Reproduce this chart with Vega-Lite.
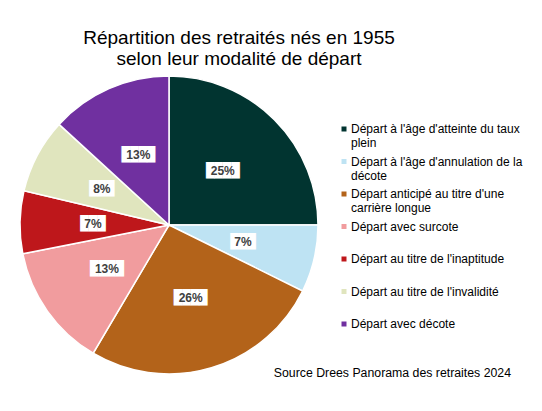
{
  "$schema": "https://vega.github.io/schema/vega-lite/v6.json",
  "background": "white",
  "padding": {"left": 0, "top": 29, "right": 0, "bottom": 0},
  "title": {
    "text": ["Répartition des retraités nés en 1955", "selon leur modalité de départ"],
    "font": "Liberation Sans",
    "fontSize": 19,
    "fontWeight": "normal",
    "color": "#000000",
    "anchor": "start",
    "align": "center",
    "frame": "group",
    "dx": 239,
    "offset": 4,
    "lineHeight": 21
  },
  "vconcat": [
    {
      "width": 338,
      "height": 298,
      "title": {
        "text": "Source Drees Panorama des retraites 2024",
        "orient": "bottom",
        "anchor": "end",
        "font": "Liberation Sans",
        "fontSize": 12.3,
        "fontWeight": "normal",
        "color": "#000000",
        "dx": 173,
        "offset": -10
      },
      "data": {
        "values": [
          {"ordre": 1, "modalite": "Départ à l'âge d'atteinte du taux plein", "part": 0.250},
          {"ordre": 2, "modalite": "Départ à l'âge d'annulation de la décote", "part": 0.073},
          {"ordre": 3, "modalite": "Départ anticipé au titre d'une carrière longue", "part": 0.262},
          {"ordre": 4, "modalite": "Départ avec surcote", "part": 0.134},
          {"ordre": 5, "modalite": "Départ au titre de l'inaptitude", "part": 0.068},
          {"ordre": 6, "modalite": "Départ au titre de l'invalidité", "part": 0.081},
          {"ordre": 7, "modalite": "Départ avec décote", "part": 0.132}
        ]
      },
      "encoding": {
        "theta": {"field": "part", "type": "quantitative", "stack": true},
        "order": {"field": "ordre", "type": "quantitative"}
      },
      "layer": [
        {
          "mark": {"type": "arc", "outerRadius": 149, "stroke": "#ffffff", "strokeWidth": 1.5},
          "encoding": {
            "color": {
              "field": "modalite",
              "type": "nominal",
              "sort": null,
              "scale": {
                "domain": [
                  "Départ à l'âge d'atteinte du taux plein",
                  "Départ à l'âge d'annulation de la décote",
                  "Départ anticipé au titre d'une carrière longue",
                  "Départ avec surcote",
                  "Départ au titre de l'inaptitude",
                  "Départ au titre de l'invalidité",
                  "Départ avec décote"
                ],
                "range": ["#013430", "#BEE3F3", "#B3631A", "#F19C9E", "#BE171B", "#E0E5BE", "#7030A0"]
              },
              "legend": {
                "title": null,
                "orient": "none",
                "legendX": 338,
                "legendY": 47,
                "symbolType": "square",
                "symbolSize": 25,
                "symbolStrokeWidth": 0,
                "labelFont": "Liberation Sans",
                "labelFontSize": 12,
                "labelColor": "#000000",
                "labelOffset": 1,
                "labelLimit": 300,
                "rowPadding": 6.5,
                "gridAlign": "all",
                "labelExpr": "datum.label == \"Départ à l'âge d'atteinte du taux plein\" ? [\"Départ à l'âge d'atteinte du taux\", 'plein'] : datum.label == \"Départ à l'âge d'annulation de la décote\" ? [\"Départ à l'âge d'annulation de la\", 'décote'] : datum.label == \"Départ anticipé au titre d'une carrière longue\" ? [\"Départ anticipé au titre d'une\", 'carrière longue'] : datum.label"
              }
            }
          }
        },
        {
          "mark": {
            "type": "text",
            "radius": 76,
            "font": "DejaVu Sans Mono",
            "fontSize": 14,
            "color": "#ffffff",
            "baseline": "middle",
            "text": {"expr": "datum.part >= 0.095 ? '████' : '███'"}
          }
        },
        {
          "mark": {
            "type": "text",
            "radius": 76,
            "font": "Liberation Sans",
            "fontSize": 12,
            "fontWeight": "bold",
            "color": "#404040",
            "baseline": "middle"
          },
          "encoding": {
            "text": {"field": "part", "type": "quantitative", "format": ".0%"}
          }
        }
      ]
    }
  ],
  "config": {
    "view": {"stroke": null}
  }
}
